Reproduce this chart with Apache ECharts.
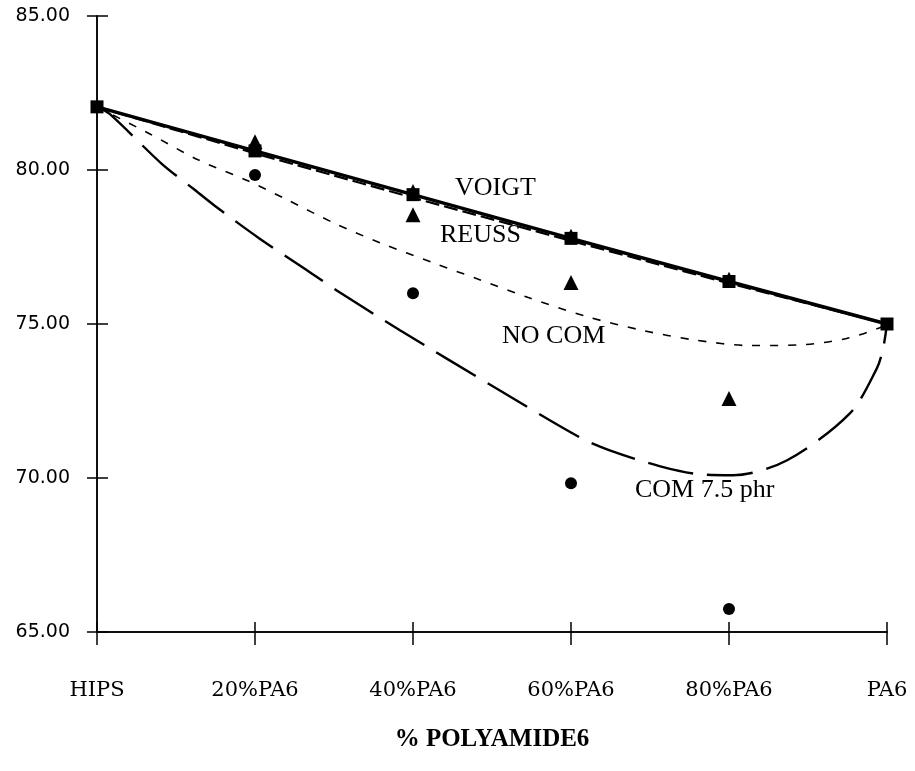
<!DOCTYPE html>
<html>
<head>
<meta charset="utf-8">
<script src="https://cdn.jsdelivr.net/npm/echarts@6/dist/echarts.min.js"></script>
<style>html,body{margin:0;padding:0;background:#fff;}#c{width:915px;height:771px;}</style>
</head>
<body>
<div id="c"></div>
<script>
// Categories (x = % PA6)
const xLabels = ['HIPS', '20%PA6', '40%PA6', '60%PA6', '80%PA6', 'PA6'];
const composition = [0, 20, 40, 60, 80, 100];
const yTicks = [65, 70, 75, 80, 85];

// Theoretical lines
const voigt = [82.05, 80.62, 79.2, 77.78, 76.38, 75.0];
const reuss = [82.05, 80.54, 79.1, 77.7, 76.32, 75.0];

// Experimental points
const noComPts = [null, 80.92, 78.55, 76.35, 72.58, null];
const comPts = [null, 79.84, 76.0, 69.83, 65.75, null];
const lineMarks = [null, null, 79.35, 77.9, 76.5, null];

// Fitted curves: [%PA6, value]
const noComCurveX = [0, 6.7, 12.8, 19.1, 24.1, 29.9, 35.8, 42.5, 48.1, 54.6, 62.0, 69.1, 75.4, 82.7, 89.4, 94.9, 99.1, 100];
const noComCurveY = [82.05, 81.17, 80.33, 79.65, 79.03, 78.29, 77.64, 76.99, 76.47, 75.86, 75.24, 74.79, 74.49, 74.30, 74.33, 74.53, 74.88, 75.0];
const comCurveX = [0, 1.6, 8.2, 12.2, 14.9, 20.6, 26.1, 30.4, 38.4, 51.0, 61.1, 64.9, 71.3, 76.3, 80.5, 87.3, 95.3, 98.7, 99.5, 100];
const comCurveY = [82.05, 81.82, 80.2, 79.39, 78.84, 77.77, 76.83, 76.08, 74.79, 72.84, 71.32, 70.9, 70.38, 70.12, 70.09, 70.57, 72.1, 73.55, 74.2, 75.0];

const pair = (xs, ys) => xs.map((x, i) => ys[i] == null ? null : [x, ys[i]]).filter(p => p);

const chart = echarts.init(document.getElementById('c'));
const gridBox = { left: 97, right: 28, top: 16, bottom: 139 };
const tickStyle = { color: '#000', width: 1.5 };
chart.setOption({
  backgroundColor: '#fff',
  animation: false,
  grid: [Object.assign({}, gridBox), Object.assign({}, gridBox)],
  xAxis: [
    {
      type: 'value', min: 0, max: 100, interval: 20, gridIndex: 0, position: 'bottom',
      axisLine: { lineStyle: { color: '#000', width: 1.5 } },
      axisTick: { inside: false, length: 13, lineStyle: tickStyle },
      axisLabel: {
        margin: 48, color: '#000', fontFamily: 'DejaVu Serif', fontSize: 21,
        formatter: v => xLabels[composition.indexOf(v)] || ''
      },
      splitLine: { show: false },
      name: '% POLYAMIDE6', nameLocation: 'middle', nameGap: 95,
      nameTextStyle: { color: '#000', fontFamily: 'Liberation Serif', fontWeight: 'bold', fontSize: 25 }
    },
    {
      type: 'value', min: 0, max: 100, interval: 20, gridIndex: 1, position: 'bottom',
      axisLine: { show: true, lineStyle: { color: '#000', width: 1.5 } },
      axisTick: { show: true, inside: true, length: 10, lineStyle: tickStyle },
      axisLabel: { show: false },
      splitLine: { show: false }
    }
  ],
  yAxis: [
    {
      type: 'value', min: 65, max: 85, interval: 5, gridIndex: 0, position: 'left',
      axisLine: { show: true, lineStyle: { color: '#000', width: 1.5 } },
      axisTick: { show: true, inside: false, length: 10, lineStyle: tickStyle },
      axisLabel: { margin: 27, color: '#000', fontFamily: 'DejaVu Sans', fontSize: 19, formatter: v => v.toFixed(2) },
      splitLine: { show: false }
    },
    {
      type: 'value', min: 65, max: 85, interval: 5, gridIndex: 1, position: 'left',
      axisLine: { show: true, lineStyle: { color: '#000', width: 1.5 } },
      axisTick: { show: true, inside: true, length: 11, lineStyle: tickStyle },
      axisLabel: { show: false },
      splitLine: { show: false }
    }
  ],
  series: [
    {
      name: 'NO COM', type: 'line', smooth: 0.3, showSymbol: false, symbol: 'none',
      data: pair(noComCurveX, noComCurveY),
      lineStyle: { color: '#000', width: 1.6, type: [8, 10] }
    },
    {
      name: 'COM 7.5 phr', type: 'line', smooth: 0.3, showSymbol: false, symbol: 'none',
      data: pair(comCurveX, comCurveY),
      lineStyle: { color: '#000', width: 2.4, type: [46, 14] }
    },
    {
      name: 'REUSS', type: 'line', symbol: 'none',
      data: pair(composition, reuss),
      lineStyle: { color: '#000', width: 2.2, type: [14, 5] }
    },
    {
      name: 'VOIGT', type: 'line', symbol: 'rect', symbolSize: 13,
      data: pair(composition, voigt),
      itemStyle: { color: '#000' },
      lineStyle: { color: '#000', width: 3.5 }
    },
    {
      name: 'marks', type: 'scatter', symbol: 'triangle', symbolSize: 12,
      data: pair(composition, lineMarks), itemStyle: { color: '#000', opacity: 1 }
    },
    {
      name: 'NO COM exp', type: 'scatter', symbol: 'triangle', symbolSize: 15,
      data: pair(composition, noComPts), itemStyle: { color: '#000', opacity: 1 }
    },
    {
      name: 'COM exp', type: 'scatter', symbol: 'circle', symbolSize: 12,
      data: pair(composition, comPts), itemStyle: { color: '#000', opacity: 1 }
    }
  ],
  graphic: [
    { type: 'text', left: 455, top: 175, style: { text: 'VOIGT', fill: '#000', font: '26px "Liberation Serif"' } },
    { type: 'text', left: 440, top: 222, style: { text: 'REUSS', fill: '#000', font: '26px "Liberation Serif"' } },
    { type: 'text', left: 502, top: 323, style: { text: 'NO COM', fill: '#000', font: '26px "Liberation Serif"' } },
    { type: 'text', left: 635, top: 477, style: { text: 'COM 7.5 phr', fill: '#000', font: '26px "Liberation Serif"' } }
  ]
});
</script>
</body>
</html>
